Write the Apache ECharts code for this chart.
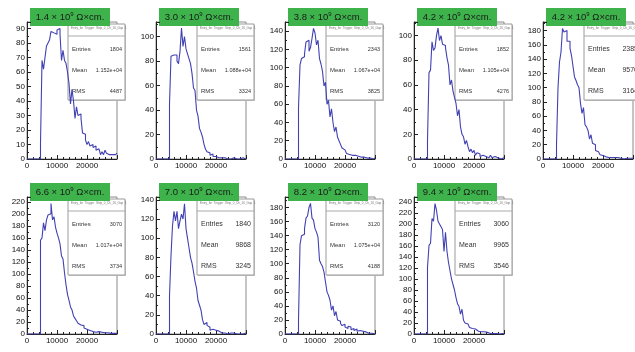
<!DOCTYPE html>
<html>
<head>
<meta charset="utf-8">
<script src="https://cdn.jsdelivr.net/npm/echarts@6/dist/echarts.min.js"></script>
<style>
  html, body { margin: 0; padding: 0; background: #fff; }
  #chart { width: 635px; height: 352px; }
</style>
</head>
<body>
<div id="chart"></div>
<script>
// Charge spectra per bulk resistivity: 500-wide bins from 4500 up to 30000
const BIN_START = 4500;
const BIN_WIDTH = 500;
const X_MAX = 30000;
const X_TICK = 10000;

const resistivities = ['1.4', '3.0', '3.8', '4.2', '4.2', '6.6', '7.0', '8.2', '9.4'];
const entries = ['1804', '1561', '2343', '1852', '2385', '3070', '1840', '3120', '3060'];
const means = ['1.152e+04', '1.088e+04', '1.067e+04', '1.105e+04', '9570', '1.017e+04', '9868', '1.075e+04', '9965'];
const rmsValues = ['4487', '3324', '3825', '4276', '3164', '3734', '3245', '4188', '3546'];
const yMaxima = [94.5, 112, 150, 111, 192, 228, 143, 195, 249];
const yTickSteps = [10, 20, 20, 20, 20, 20, 20, 20, 20];

const counts1 = [11,68,62,70,78,80,82,88,87,88, 86,89,90,86,68,75,68,66,60,52, 38,48,40,28,36,30,31,28,18,17, 13,10,12,9,10,8,9,6,7,6, 3,5,3,6,4,3,4,3,2,3, 4];
const counts2 = [45,84,85,84,85,80,78,88,107,92, 100,90,86,82,78,70,58,56,40,35, 25,22,18,12,8,6,5,3,4,2, 2,1,1,2,1,0,1,1,0,1, 0,0,1,0,0,1,0,0,1,0, 0];
const counts3 = [56,103,110,112,115,128,130,118,122,132, 143,138,125,130,110,104,96,80,84,60, 64,46,55,40,30,35,24,20,16,12, 10,8,6,5,6,4,3,4,2,3, 2,2,1,2,1,1,0,1,1,0, 1];
const counts4 = [15,70,72,95,88,90,100,106,96,100, 93,92,90,82,76,60,64,55,50,45, 35,40,26,20,18,12,15,10,6,8, 5,7,3,5,4,2,3,4,2,3, 1,2,3,1,2,1,1,2,0,1, 1];
const counts5 = [20,100,136,150,183,178,180,165,165,155, 145,130,115,110,104,100,78,64,72,48, 45,40,28,34,22,20,12,10,8,6, 5,4,3,4,2,3,2,1,2,1, 2,1,1,2,0,1,1,0,1,0, 1];
const counts6 = [156,160,185,172,190,198,200,217,190,195, 178,168,160,150,130,125,102,82,66,56, 45,40,30,26,22,18,15,12,14,10, 8,7,6,5,4,5,3,3,4,2, 3,2,2,1,2,1,1,2,1,0, 1];
const counts7 = [40,82,113,128,118,128,110,118,125,120, 136,110,100,90,80,74,65,55,48,35, 30,25,15,10,12,9,7,4,5,3, 4,2,3,2,1,2,1,1,0,1, 1,0,1,0,0,1,0,1,0,0, 1];
const counts8 = [20,127,140,142,150,165,168,180,186,165, 162,150,145,138,105,100,96,88,74,60, 55,48,34,40,26,32,20,18,15,12, 14,10,8,11,10,6,8,5,7,4, 5,3,4,2,3,2,1,2,1,1, 0];
const counts9 = [121,161,165,210,205,237,225,205,200,195, 190,150,185,150,130,115,100,90,80,66, 55,50,36,45,25,20,18,15,12,10, 8,9,6,5,6,4,3,4,2,3, 2,1,2,1,2,1,1,0,1,1, 0];

const allCounts = [counts1, counts2, counts3, counts4, counts5, counts6, counts7, counts8, counts9];

// Panel geometry (pixels)
const PANEL_LEFT = [27, 156, 285, 414, 543];
const ROW_TOP = [22, 197];
const PLOT_W = 90;
const PLOT_H = 137;

const FONT = '"Liberation Sans", Arial, Helvetica, sans-serif';
const HIST_COLOR = '#4141b4';
const AXIS_COLOR = '#222';

// Step outline of a histogram: empty range from 0, then one point per bin edge
function histPoints(counts) {
  const pts = [[0, 0]];
  counts.forEach((c, k) => pts.push([BIN_START + k * BIN_WIDTH, c]));
  pts.push([X_MAX, counts[counts.length - 1]]);
  return pts;
}

const grids = [], xAxes = [], yAxes = [], series = [], graphics = [];

allCounts.forEach((counts, i) => {
  const row = i < 5 ? 0 : 1;
  const col = i < 5 ? i : i - 5;
  const left = PANEL_LEFT[col];
  const top = ROW_TOP[row];

  grids.push({
    left: left, top: top, width: PLOT_W, height: PLOT_H,
    show: true, borderColor: '#8a8a8a', borderWidth: 1, backgroundColor: 'transparent'
  });

  xAxes.push({
    gridIndex: i, type: 'value', min: 0, max: X_MAX, interval: X_TICK,
    axisLine: { show: true, onZero: false, lineStyle: { color: AXIS_COLOR, width: 1 } },
    axisTick: { show: true, inside: true, length: 4, lineStyle: { color: AXIS_COLOR } },
    minorTick: { show: true, splitNumber: 5, length: 2, lineStyle: { color: AXIS_COLOR } },
    splitLine: { show: false },
    axisLabel: {
      fontSize: 8, color: '#111', margin: 3, fontFamily: FONT, showMaxLabel: false,
      formatter: v => String(v)
    }
  });

  yAxes.push({
    gridIndex: i, type: 'value', min: 0, max: yMaxima[i], interval: yTickSteps[i],
    axisLine: { show: true, onZero: false, lineStyle: { color: AXIS_COLOR, width: 1 } },
    axisTick: { show: true, inside: true, length: 4, lineStyle: { color: AXIS_COLOR } },
    minorTick: { show: true, splitNumber: 2, length: 2, lineStyle: { color: AXIS_COLOR } },
    splitLine: { show: false },
    axisLabel: { fontSize: 8, color: '#111', margin: 2, fontFamily: FONT, showMaxLabel: false }
  });

  series.push({
    type: 'line', xAxisIndex: i, yAxisIndex: i, step: 'end',
    symbol: 'none', silent: true, animation: false,
    lineStyle: { color: HIST_COLOR, width: 1.1 },
    data: histPoints(counts)
  });

  // Statistics box; text shrinks when the mean needs exponent notation
  const sx = left + 41, sy = top + 2, sw = 57, sh = 76;
  const wide = means[i].length > 6;
  const labelFont = { fontSize: wide ? 6 : 7, fontFamily: FONT, fill: '#333' };
  const valueFont = { fontSize: wide ? 5.5 : 7, fontFamily: FONT, fill: '#333' };
  graphics.push({
    type: 'group', x: sx, y: sy, z: 50,
    children: [
      { type: 'rect', shape: { x: 1, y: 1, width: sw, height: sh }, style: { fill: '#c8c8c8' } },
      { type: 'rect', shape: { x: 0, y: 0, width: sw, height: sh }, style: { fill: '#fff', stroke: '#9a9a9a', lineWidth: 1 } },
      { type: 'text', x: 3, y: 3, style: { text: 'Entry_for_Trigger_Strip_0_Ch_16_Gap_1', fontSize: 3, fontFamily: FONT, fill: '#777' } },
      { type: 'line', shape: { x1: 0, y1: 12, x2: sw, y2: 12 }, style: { stroke: '#aaa', lineWidth: 1 } },
      { type: 'text', x: 4, y: 25, style: Object.assign({ text: 'Entries', verticalAlign: 'middle' }, labelFont) },
      { type: 'text', x: sw - 3, y: 25, style: Object.assign({ text: entries[i], align: 'right', verticalAlign: 'middle' }, valueFont) },
      { type: 'text', x: 4, y: 46, style: Object.assign({ text: 'Mean', verticalAlign: 'middle' }, labelFont) },
      { type: 'text', x: sw - 3, y: 46, style: Object.assign({ text: means[i], align: 'right', verticalAlign: 'middle' }, valueFont) },
      { type: 'text', x: 4, y: 67, style: Object.assign({ text: 'RMS', verticalAlign: 'middle' }, labelFont) },
      { type: 'text', x: sw - 3, y: 67, style: Object.assign({ text: rmsValues[i], align: 'right', verticalAlign: 'middle' }, valueFont) }
    ]
  });

  // Green resistivity tag
  graphics.push({
    type: 'group', x: left + 3, y: top - 14, z: 60,
    children: [
      { type: 'rect', shape: { x: 0, y: 0, width: 80, height: 18 }, style: { fill: '#3eb34c' } },
      {
        type: 'text', x: 40, y: 9.5,
        style: {
          text: '{a|' + resistivities[i] + ' × 10}{s|9}{a| Ω×cm.}',
          align: 'center', verticalAlign: 'middle', fill: '#1a1a1a',
          rich: {
            a: { fontSize: 9.5, fontFamily: FONT, fill: '#1a1a1a', lineHeight: 12 },
            s: { fontSize: 6, fontFamily: FONT, fill: '#1a1a1a', lineHeight: 7, verticalAlign: 'top' }
          }
        }
      }
    ]
  });
});

const chart = echarts.init(document.getElementById('chart'), null, { renderer: 'canvas' });
chart.setOption({
  animation: false,
  backgroundColor: '#fff',
  grid: grids,
  xAxis: xAxes,
  yAxis: yAxes,
  series: series,
  graphic: graphics
});
</script>
</body>
</html>
